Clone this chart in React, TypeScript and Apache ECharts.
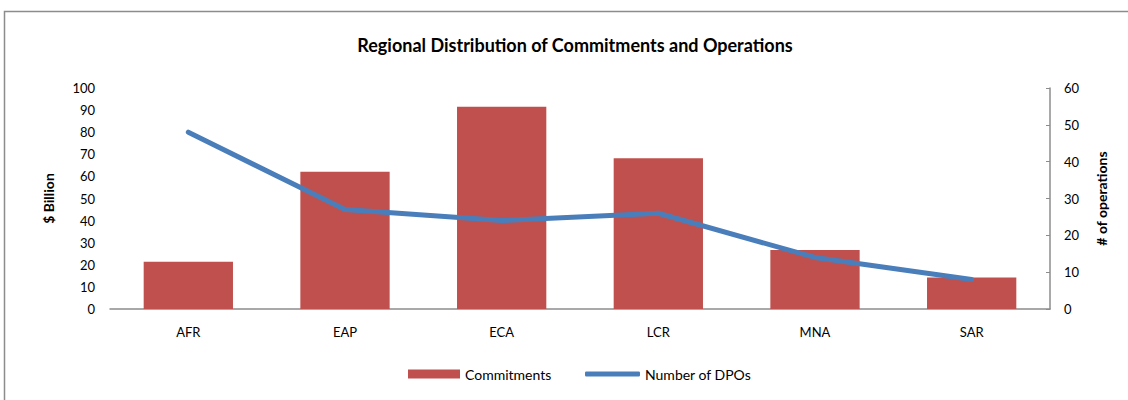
import React, { useEffect, useRef } from "react";
import * as echarts from "echarts";

const regions = ["AFR", "EAP", "ECA", "LCR", "MNA", "SAR"];
const commitments = [21.4, 62.1, 91.5, 68.2, 26.7, 14.2];
const dpos = [48, 27, 24, 26, 14, 8];

const FONT = "Lato, 'Open Sans', sans-serif";

export default function App() {
  const ref = useRef<HTMLDivElement>(null);
  useEffect(() => {
    const chart = echarts.init(ref.current!, undefined, { renderer: "svg" });
    chart.setOption({
      animation: false,
      textStyle: { fontFamily: FONT, color: "#000" },
      graphic: [
        {
          type: "rect",
          shape: { x: 4.5, y: 11.5, width: 1300, height: 600 },
          style: { fill: "none", stroke: "#8c8c8c", lineWidth: 1.5 },
          silent: true,
        },
        {
          type: "text",
          x: 575,
          y: 45,
          style: {
            text: "Regional Distribution of Commitments and Operations",
            fontFamily: FONT,
            fontWeight: "bold",
            fontSize: 18,
            fill: "#000",
            align: "center",
            verticalAlign: "middle",
          },
        },
      ],
      grid: { left: 110, right: 78, top: 88, bottom: 91 },
      legend: [
        {
          left: 408,
          top: 367,
          padding: 0,
          itemWidth: 52,
          itemHeight: 9,
          textStyle: { fontFamily: FONT, fontSize: 14, color: "#000" },
          data: [{ name: "Commitments", icon: "rect" }],
        },
        {
          left: 585,
          top: 367,
          padding: 0,
          itemWidth: 55,
          itemHeight: 5,
          textStyle: { fontFamily: FONT, fontSize: 14, color: "#000" },
          data: [{ name: "Number of DPOs", icon: "roundRect" }],
        },
      ],
      xAxis: {
        type: "category",
        data: regions,
        axisLine: { lineStyle: { color: "#8c8c8c", width: 1.5 } },
        axisTick: { show: false },
        axisLabel: { fontFamily: FONT, fontSize: 13, color: "#000", margin: 16 },
      },
      yAxis: [
        {
          type: "value",
          min: 0,
          max: 100,
          interval: 10,
          name: "$ Billion",
          nameLocation: "middle",
          nameGap: 55,
          nameRotate: 90,
          nameTextStyle: { fontFamily: FONT, fontSize: 14, fontWeight: "bold", color: "#000" },
          axisLine: { show: false },
          axisTick: { show: false },
          splitLine: { show: false },
          axisLabel: { fontFamily: FONT, fontSize: 13, color: "#000", margin: 15 },
        },
        {
          type: "value",
          min: 0,
          max: 60,
          interval: 10,
          position: "right",
          name: "# of operations",
          nameLocation: "middle",
          nameGap: 44,
          nameRotate: 90,
          nameTextStyle: { fontFamily: FONT, fontSize: 14, fontWeight: "bold", color: "#000" },
          axisLine: { show: true, lineStyle: { color: "#8c8c8c", width: 1.5 } },
          axisTick: { show: true, inside: true, length: 4, lineStyle: { color: "#8c8c8c" } },
          splitLine: { show: false },
          axisLabel: { fontFamily: FONT, fontSize: 13, color: "#000", margin: 14 },
        },
      ],
      series: [
        {
          name: "Commitments",
          type: "bar",
          data: commitments,
          yAxisIndex: 0,
          barWidth: "57%",
          itemStyle: { color: "#c0504d" },
        },
        {
          name: "Number of DPOs",
          type: "line",
          data: dpos,
          yAxisIndex: 1,
          symbol: "none",
          lineStyle: { color: "#4a7ebb", width: 5, cap: "round" },
          itemStyle: { color: "#4a7ebb" },
        },
      ],
    });
    return () => chart.dispose();
  }, []);
  return (
    <div
      ref={ref}
      style={{ position: "absolute", left: 0, top: 0, width: 1128, height: 400 }}
    />
  );
}
